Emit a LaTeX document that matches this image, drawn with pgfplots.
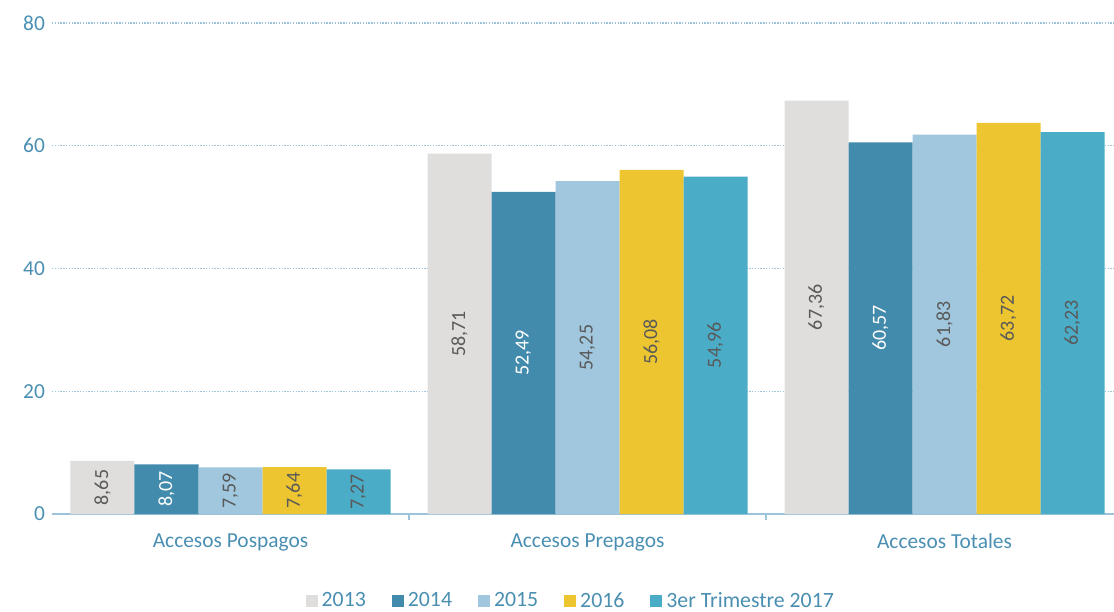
\documentclass[border=0pt]{standalone}
\usepackage{fontspec}
\setmainfont{Carlito}
\usepackage{pgfplots}
\pgfplotsset{compat=1.18}

\definecolor{cTrece}{HTML}{DFDEDC}
\definecolor{cCatorce}{HTML}{428BAC}
\definecolor{cQuince}{HTML}{A0C7DE}
\definecolor{cDieciseis}{HTML}{ECC530}
\definecolor{cDiecisiete}{HTML}{4AACC6}
\definecolor{txt}{HTML}{4A8FB2}
\definecolor{lbl}{HTML}{595959}
\definecolor{gridc}{HTML}{9DC3DB}

\begin{document}
\begin{tikzpicture}
\useasboundingbox (-26pt,-48.5pt) rectangle (531pt,257pt);
\begin{axis}[
    at={(0,0)}, anchor=south west,
    scale only axis, width=535.5pt, height=245.5pt,
    ybar=0pt, bar width=32pt,
    xmin=-0.5, xmax=2.5, ymin=0, ymax=80,
    xtick={0,1,2},
    xticklabels={Accesos Pospagos, Accesos Prepagos, Accesos Totales},
    extra x ticks={0.5,1.5},
    extra x tick labels={},
    extra x tick style={grid=none, major tick length=3pt, tick align=outside,
        major tick style={draw=gridc, line width=0.8pt}},
    ytick={0,20,40,60,80},
    axis x line*=bottom,
    axis y line*=left,
    y axis line style={opacity=0},
    x axis line style={draw=gridc, line width=1pt},
    major tick length=0pt,
    ymajorgrids,
    grid style={draw=gridc, line width=0.7pt, dash pattern=on 0.7pt off 0.7pt},
    tick label style={font=\fontsize{10.7}{12}\selectfont, text=txt},
    xticklabel style={yshift=-6.5pt},
    /pgf/number format/assume math mode=true,
    visualization depends on={rawy \as \rawy},
    nodes near coords={\pgfmathprintnumber[use comma,fixed,fixed zerofill,precision=2]{\pgfplotspointmeta}},
    every node near coord/.append style={yshift={-\rawy*1.534375pt}, rotate=90,
        anchor=center, font=\fontsize{10}{12}\selectfont, text=lbl},
    legend columns=5,
    legend style={draw=none, at={(0.4853,-0.178)}, anchor=center,
        font=\fontsize{10.9}{12}\selectfont, text=txt, inner sep=1pt,
        /tikz/every even column/.append style={column sep=11pt}},
    legend image code/.code={\fill[#1] (0pt,-3pt) rectangle (6pt,3pt);},
]
\addplot[fill=cTrece, draw=none] coordinates {(0,8.65) (1,58.71) (2,67.36)};
\addplot[fill=cCatorce, draw=none, every node near coord/.append style={text=white}]
    coordinates {(0,8.07) (1,52.49) (2,60.57)};
\addplot[fill=cQuince, draw=none] coordinates {(0,7.59) (1,54.25) (2,61.83)};
\addplot[fill=cDieciseis, draw=none] coordinates {(0,7.64) (1,56.08) (2,63.72)};
\addplot[fill=cDiecisiete, draw=none] coordinates {(0,7.27) (1,54.96) (2,62.23)};
\legend{2013, 2014, 2015, 2016, 3er Trimestre 2017}
\end{axis}
\end{tikzpicture}
\end{document}
